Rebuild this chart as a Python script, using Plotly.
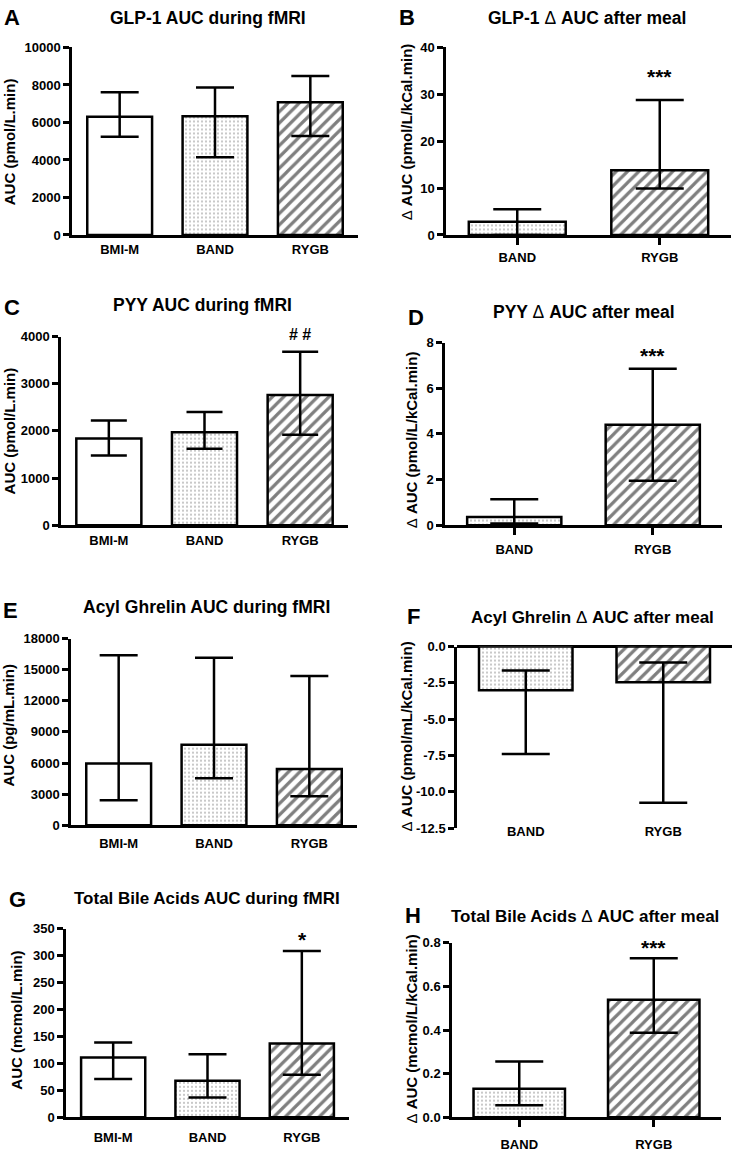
import plotly.graph_objects as go

W, H = 735, 1152

groups3 = ["BMI-M", "BAND", "RYGB"]
groups2 = ["BAND", "RYGB"]

# bar height, upper and lower whisker end
glp1_auc = [6300, 6330, 7080]
glp1_auc_hi = [7610, 7860, 8480]
glp1_auc_lo = [5240, 4150, 5280]

glp1_delta = [2.8, 13.8]
glp1_delta_hi = [5.5, 28.8]
glp1_delta_lo = [0.0, 9.9]

pyy_auc = [1840, 1970, 2760]
pyy_auc_hi = [2220, 2400, 3680]
pyy_auc_lo = [1480, 1620, 1920]

pyy_delta = [0.36, 4.40]
pyy_delta_hi = [1.14, 6.85]
pyy_delta_lo = [0.07, 1.95]

ghrelin_auc = [5960, 7760, 5420]
ghrelin_auc_hi = [16400, 16150, 14400]
ghrelin_auc_lo = [2410, 4530, 2790]

ghrelin_delta = [-3.0, -2.45]
ghrelin_delta_hi = [-1.64, -1.09]
ghrelin_delta_lo = [-7.4, -10.75]

bile_auc = [111, 68, 137]
bile_auc_hi = [139, 117, 309]
bile_auc_lo = [71, 37, 79]

bile_delta = [0.131, 0.538]
bile_delta_hi = [0.256, 0.729]
bile_delta_lo = [0.056, 0.388]

ghrelin_delta_ticks = [0, -2.5, -5, -7.5, -10, -12.5]
ghrelin_delta_ticktext = ["0.0", "-2.5", "-5.0", "-7.5", "-10.0", "-12.5"]

FONT = "Liberation Sans, Arial, sans-serif"
PATTERN = {
    "BMI-M": dict(shape="", fg="black", size=8, solid=0.2),
    "BAND": dict(shape=".", fg="#777777", size=4, solid=0.22),
    "RYGB": dict(shape="/", fg="black", size=8, solid=0.4),
}

fig = go.Figure()
annotations = []


def px_x(x):
    return x / W


def px_y(y):
    return 1 - y / H


def add_panel(i, cats, vals, hi, lo, xdom, ydom, yrange, tickvals, ticktext,
              cap, xticks=False, label_standoff=3, negative=False):
    xa = "x" if i == 1 else f"x{i}"
    ya = "y" if i == 1 else f"y{i}"
    plus = [h - v for v, h in zip(vals, hi)]
    minus = [v - l for v, l in zip(vals, lo)]
    fig.add_trace(go.Bar(
        x=cats, y=vals, xaxis=xa, yaxis=ya, width=0.68,
        marker=dict(
            color="white",
            line=dict(color="black", width=2.5),
            pattern=dict(
                shape=[PATTERN[c]["shape"] for c in cats],
                fgcolor=[PATTERN[c]["fg"] for c in cats],
                bgcolor="white",
                size=[PATTERN[c]["size"] for c in cats],
                solidity=[PATTERN[c]["solid"] for c in cats],
                fillmode="overlay",
            ),
        ),
        error_y=dict(type="data", symmetric=False, array=plus, arrayminus=minus,
                     color="black", thickness=2.5, width=cap),
        showlegend=False,
    ))
    key = "" if i == 1 else str(i)
    fig.layout[f"xaxis{key}"] = dict(
        domain=[px_x(xdom[0]), px_x(xdom[1])], anchor=ya,
        type="category", range=[-0.5, len(cats) - 0.5],
        showline=not negative, linecolor="black", linewidth=2.5,
        ticks="outside" if xticks else "", ticklen=7, tickwidth=2.5, tickcolor="black",
        ticklabelstandoff=label_standoff,
        tickfont=dict(family=FONT, size=13, color="black", weight="bold"),
        showgrid=False, zeroline=False, fixedrange=True,
    )
    fig.layout[f"yaxis{key}"] = dict(
        domain=[px_y(ydom[1]), px_y(ydom[0])], anchor=xa,
        range=yrange, tickmode="array", tickvals=tickvals, ticktext=ticktext,
        showline=True, linecolor="black", linewidth=2.5,
        ticks="outside", ticklen=6, tickwidth=2.5, tickcolor="black",
        tickfont=dict(family=FONT, size=13, color="black", weight="bold"),
        showgrid=False, zeroline=negative, zerolinecolor="black", zerolinewidth=2.5,
        fixedrange=True,
    )


def text(x, y, s, size, angle=0, weight="bold"):
    annotations.append(dict(
        x=px_x(x), y=px_y(y), xref="paper", yref="paper", text=s, showarrow=False,
        textangle=angle, xanchor="center", yanchor="middle",
        font=dict(family=FONT, size=size, color="black", weight=weight),
    ))


def ticks(lo, hi, step):
    vals, v = [], lo
    while v <= hi + 1e-9:
        vals.append(round(v, 6))
        v += step
    return vals


a_t = ticks(0, 10000, 2000)
add_panel(1, groups3, glp1_auc, glp1_auc_hi, glp1_auc_lo, (72, 358), (41, 231),
          [0, 10000], a_t, [str(v) for v in a_t], 19, label_standoff=1)
b_t = ticks(0, 40, 10)
add_panel(2, groups2, glp1_delta, glp1_delta_hi, glp1_delta_lo, (446, 731), (41, 231),
          [0, 40], b_t, [str(int(v)) for v in b_t], 24, xticks=True, label_standoff=2)
c_t = ticks(0, 4000, 1000)
add_panel(3, groups3, pyy_auc, pyy_auc_hi, pyy_auc_lo, (61, 348), (334, 525),
          [0, 4000], c_t, [str(v) for v in c_t], 18, label_standoff=1)
d_t = ticks(0, 8, 2)
add_panel(4, groups2, pyy_delta, pyy_delta_hi, pyy_delta_lo, (445, 722), (340, 525),
          [0, 8], d_t, [str(int(v)) for v in d_t], 24, xticks=True, label_standoff=3)
e_t = ticks(0, 18000, 3000)
add_panel(5, groups3, ghrelin_auc, ghrelin_auc_hi, ghrelin_auc_lo, (71, 357), (640, 829),
          [0, 18000], e_t, [str(v) for v in e_t], 19, label_standoff=4)
add_panel(6, groups2, ghrelin_delta, ghrelin_delta_hi, ghrelin_delta_lo, (457, 732), (648, 832),
          [-12.5, 0], ghrelin_delta_ticks, ghrelin_delta_ticktext, 24,
          label_standoff=-6, negative=True)
g_t = ticks(0, 350, 50)
add_panel(7, groups3, bile_auc, bile_auc_hi, bile_auc_lo, (66, 349), (934, 1125),
          [0, 350], g_t, [str(int(v)) for v in g_t], 19, label_standoff=6)
h_t = ticks(0, 0.8, 0.2)
add_panel(8, groups2, bile_delta, bile_delta_hi, bile_delta_lo, (452, 721), (948, 1125),
          [0, 0.8], h_t, [f"{v:.1f}" for v in h_t], 24, xticks=True, label_standoff=6)

# panel titles
D = "<span style='font-weight:normal'>\u0394</span>"
text(208, 11, "GLP-1 AUC during fMRI", 17.5)
text(587, 11, f"GLP-1 {D} AUC after meal", 17.5)
text(202, 302, "PYY AUC during fMRI", 17.5)
text(584, 309, f"PYY {D} AUC after meal", 17.5)
text(206, 608, "Acyl Ghrelin AUC during fMRI", 17.5)
text(592, 619, f"Acyl Ghrelin {D} AUC after meal", 17)
text(207, 903, "Total Bile Acids AUC during fMRI", 17)
text(585, 921, f"Total Bile Acids {D} AUC after meal", 17)

# panel letters
for s, x, y in [("A", 12, 11), ("B", 407, 11), ("C", 12, 304), ("D", 416, 315),
                ("E", 10, 611), ("F", 413, 618), ("G", 17, 904), ("H", 413, 920)]:
    text(x, y, s, 22)

# y-axis titles
text(9, 137, "AUC (pmol/L.min)", 15, -90)
text(406, 127, f"{D} AUC (pmol/L/kCal.min)", 15, -90)
text(9, 430, "AUC (pmol/L.min)", 15, -90)
text(411, 439, f"{D} AUC (pmol/L/kCal.min)", 15, -90)
text(9, 728, "AUC (pg/mL.min)", 15, -90)
text(406, 739, f"{D} AUC (pmol/mL/kCal.min)", 15, -90)
text(17, 1027, "AUC (mcmol/L.min)", 15, -90)
text(412, 1036, f"{D} AUC (mcmol/L/kCal.min)", 15, -90)

# significance marks
text(659, 70, "***", 21)
text(652, 353, "***", 21)
text(300, 332, "# #", 16)
text(302, 945, "*", 21)
text(653, 953, "***", 21)

fig.update_layout(
    width=W, height=H, autosize=False,
    margin=dict(l=0, r=0, t=0, b=0),
    paper_bgcolor="white", plot_bgcolor="white",
    annotations=annotations,
    bargap=0.32,
)

fig.write_html("out.html", config={"displayModeBar": False},
               post_script="document.body.style.margin='0';")
